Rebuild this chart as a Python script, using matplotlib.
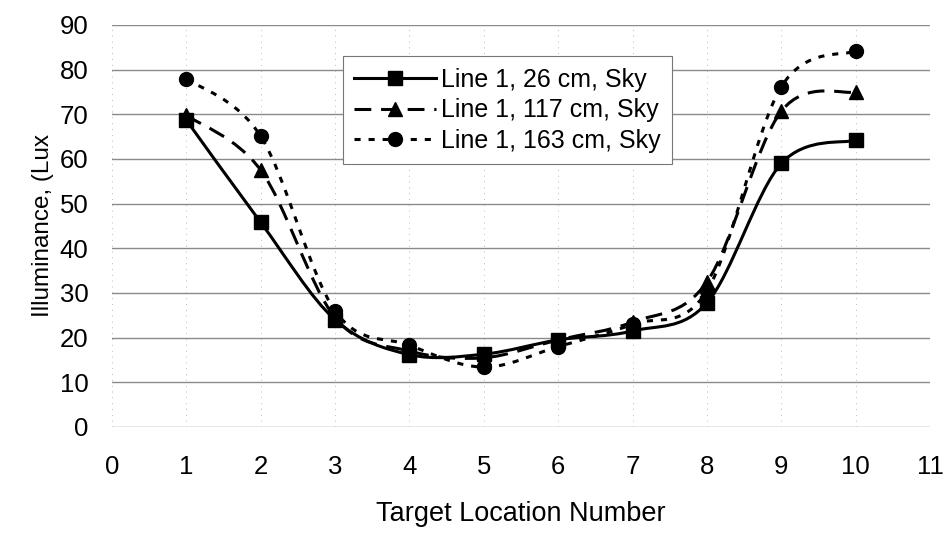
import numpy as np
import matplotlib
matplotlib.use("Agg")
import matplotlib.pyplot as plt
from matplotlib.path import Path
from matplotlib.patches import PathPatch
from matplotlib.lines import Line2D

plt.rcParams['font.family'] = ['Liberation Sans', 'DejaVu Sans']

locations = [1, 2, 3, 4, 5, 6, 7, 8, 9, 10]
lux_26 = [68.7, 45.8, 24.0, 16.2, 16.3, 19.5, 21.5, 27.8, 59.0, 64.2]
lux_117 = [69.8, 57.5, 24.5, 17.0, 15.5, 19.5, 23.5, 32.5, 70.7, 75.0]
lux_163 = [78.0, 65.1, 26.0, 18.3, 13.4, 18.0, 23.0, 30.5, 76.2, 84.2]
labels = ["Line 1, 26 cm, Sky", "Line 1, 117 cm, Sky", "Line 1, 163 cm, Sky"]


def smooth_path(x, y):
    # Excel-like smoothed line: cubic Bezier through every point
    p = np.column_stack([x, y]).astype(float)
    ext = np.vstack([p[0], p, p[-1]])
    verts = [p[0]]
    codes = [Path.MOVETO]
    for i in range(len(p) - 1):
        p0, p1, p2, p3 = ext[i], ext[i + 1], ext[i + 2], ext[i + 3]
        c1 = p1 + (p2 - p0) / 6.0
        c2 = p2 - (p3 - p1) / 6.0
        verts += [c1, c2, p2]
        codes += [Path.CURVE4] * 3
    return Path(verts, codes)


fig = plt.figure(figsize=(9.52, 5.34), dpi=100)
ax = fig.add_axes([0.1176, 0.2004, 0.8594, 0.7528])

styles = [
    dict(ls='-', marker='s', ms=10),
    dict(ls=(0, (5.5, 3.2)), marker='^', ms=10),
    dict(ls=(0, (2.0, 2.6)), marker='o', ms=10),
]
series = [lux_26, lux_117, lux_163]
lw = 2.2

handles = []
for vals, st, lab in zip(series, styles, labels):
    patch = PathPatch(smooth_path(locations, vals), facecolor='none',
                      edgecolor='black', lw=lw, linestyle=st['ls'], zorder=3)
    ax.add_patch(patch)
    ax.plot(locations, vals, linestyle='none', marker=st['marker'],
            ms=st['ms'], color='black', zorder=4)
    handles.append(Line2D([], [], color='black', lw=lw, linestyle=st['ls'],
                          marker=st['marker'], ms=st['ms']))

ax.set_xlim(0, 11)
ax.set_ylim(0, 90)
ax.set_xticks(range(0, 12))
ax.set_yticks(range(0, 91, 10))
ax.tick_params(length=0, labelsize=18.5)
ax.tick_params(axis='x', pad=20)
ax.tick_params(axis='y', pad=17)
for s in ax.spines.values():
    s.set_visible(False)
ax.set_axisbelow(True)
ax.grid(axis='y', color='#8a8a8a', lw=1.0)
ax.grid(axis='x', color='#bbbbbb', lw=0.7, linestyle=(0, (1, 5)))

ax.set_xlabel("Target Location Number", fontsize=19.5, labelpad=16)
ax.set_ylabel("Illuminance, (Lux", fontsize=17.5, labelpad=4)

leg = ax.legend(handles, labels, loc='upper left',
                bbox_to_anchor=(0.282, 0.922), fontsize=18, frameon=True,
                fancybox=False, edgecolor='#777777', framealpha=1,
                handlelength=3.3, handletextpad=0.2, borderpad=0.45,
                labelspacing=0.27, borderaxespad=0)
leg.get_frame().set_linewidth(0.8)

fig.savefig("out.png", dpi=100)
